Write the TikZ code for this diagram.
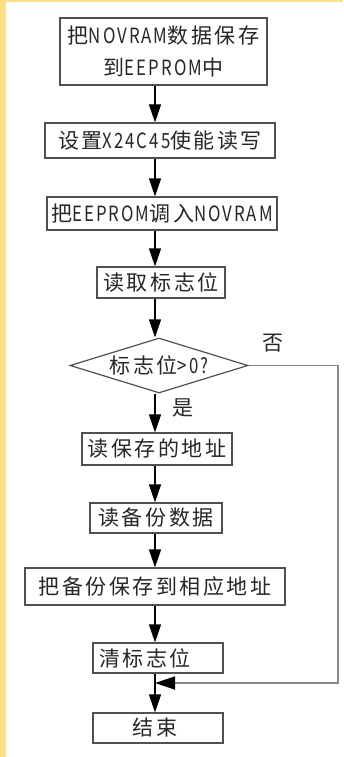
\documentclass[tikz,border=0pt]{standalone}
\usepackage{fontspec}
\setmainfont[LetterSpace=12]{Noto Sans CJK SC}
\usetikzlibrary{arrows.meta,shapes.geometric}
\newcommand\nar[1]{\scalebox{0.8}[1]{#1}}
\definecolor{edgeyellow}{HTML}{FFDF85}
\definecolor{boxline}{HTML}{505050}
\definecolor{loopline}{HTML}{8A8A8A}
\tikzset{
  stepbox/.style={draw=boxline, line width=1.2pt, rectangle, inner sep=0pt,
    align=center, font=\fontsize{21}{32}\selectfont, text=black!85},
  decision/.style={draw=boxline, line width=1.2pt, diamond, inner sep=0pt},
  arr/.style={draw=black, line width=1.2pt, -{Triangle[length=18pt,width=12pt]}},
  looparr/.style={draw=loopline, line width=1.8pt, -{Triangle[length=20pt,width=13pt,color=black]}},
  lbl/.style={font=\fontsize{21}{26}\selectfont, text=black!85, inner sep=0pt}
}
\begin{document}
\begin{tikzpicture}[x=1pt,y=-1pt]
  \fill[white] (0,0) rectangle (343,757);
  \useasboundingbox (0,0) rectangle (343,757);
  \fill[edgeyellow] (0,0) rectangle (6,757);
  \fill[edgeyellow] (0,0) rectangle (343,2);

  \coordinate (ax) at (155,0);

  \node[stepbox, minimum width=207pt, minimum height=67pt] (b1) at (163.5,51.5)
    {把\nar{NOVRAM}数据保存\\到\nar{EEPROM}中};
  \node[stepbox, minimum width=230pt, minimum height=35pt] (b2) at (160,140.5)
    {设置\nar{X24C45}使能读写};
  \node[stepbox, minimum width=230pt, minimum height=33pt] (b3) at (162,213.5)
    {把\nar{EEPROM}调入\nar{NOVRAM}};
  \node[stepbox, minimum width=128pt, minimum height=31pt] (b4) at (161,282.5)
    {读取标志位};
  \node[decision, minimum width=178pt, minimum height=55pt] (d) at (159,365.5) {};
  \node[lbl] (dt) at (159,365.5) {标志位\nar{>0?}};
  \node[stepbox, minimum width=150pt, minimum height=32pt] (b5) at (157,449)
    {读保存的地址};
  \node[stepbox, minimum width=132pt, minimum height=30pt] (b6) at (156,518)
    {读备份数据};
  \node[stepbox, minimum width=260pt, minimum height=37pt] (b7) at (155,586.5)
    {把备份保存到相应地址};
  \node[stepbox, minimum width=130pt, minimum height=30pt] (b8) at (158,658)
    {清标志位\hspace*{26pt}};
  \node[stepbox, minimum width=130pt, minimum height=30pt] (b9) at (158,728)
    {结束\hspace*{6pt}};

  \node[lbl] (no) at (273,343) {否};
  \node[lbl] (yes) at (183,408) {是};

  \coordinate (j) at (155,683);
  \coordinate (r1) at (338,365.5);
  \coordinate (r2) at (338,683);

  \draw[arr] (b1.south -| ax) -- (b2.north -| ax);
  \draw[arr] (b2.south -| ax) -- (b3.north -| ax);
  \draw[arr] (b3.south -| ax) -- (b4.north -| ax);
  \draw[arr] (b4.south -| ax) -- (d.north -| ax);
  \draw[arr] (d.south -| ax) -- (b5.north -| ax);
  \draw[arr] (b5.south -| ax) -- (b6.north -| ax);
  \draw[arr] (b6.south -| ax) -- (b7.north -| ax);
  \draw[arr] (b7.south -| ax) -- (b8.north -| ax);
  \draw[arr] (b8.south -| ax) -- (b9.north -| ax);
  \draw[looparr] (d.east) -- (r1) -- (r2) -- (j);
\end{tikzpicture}
\end{document}
